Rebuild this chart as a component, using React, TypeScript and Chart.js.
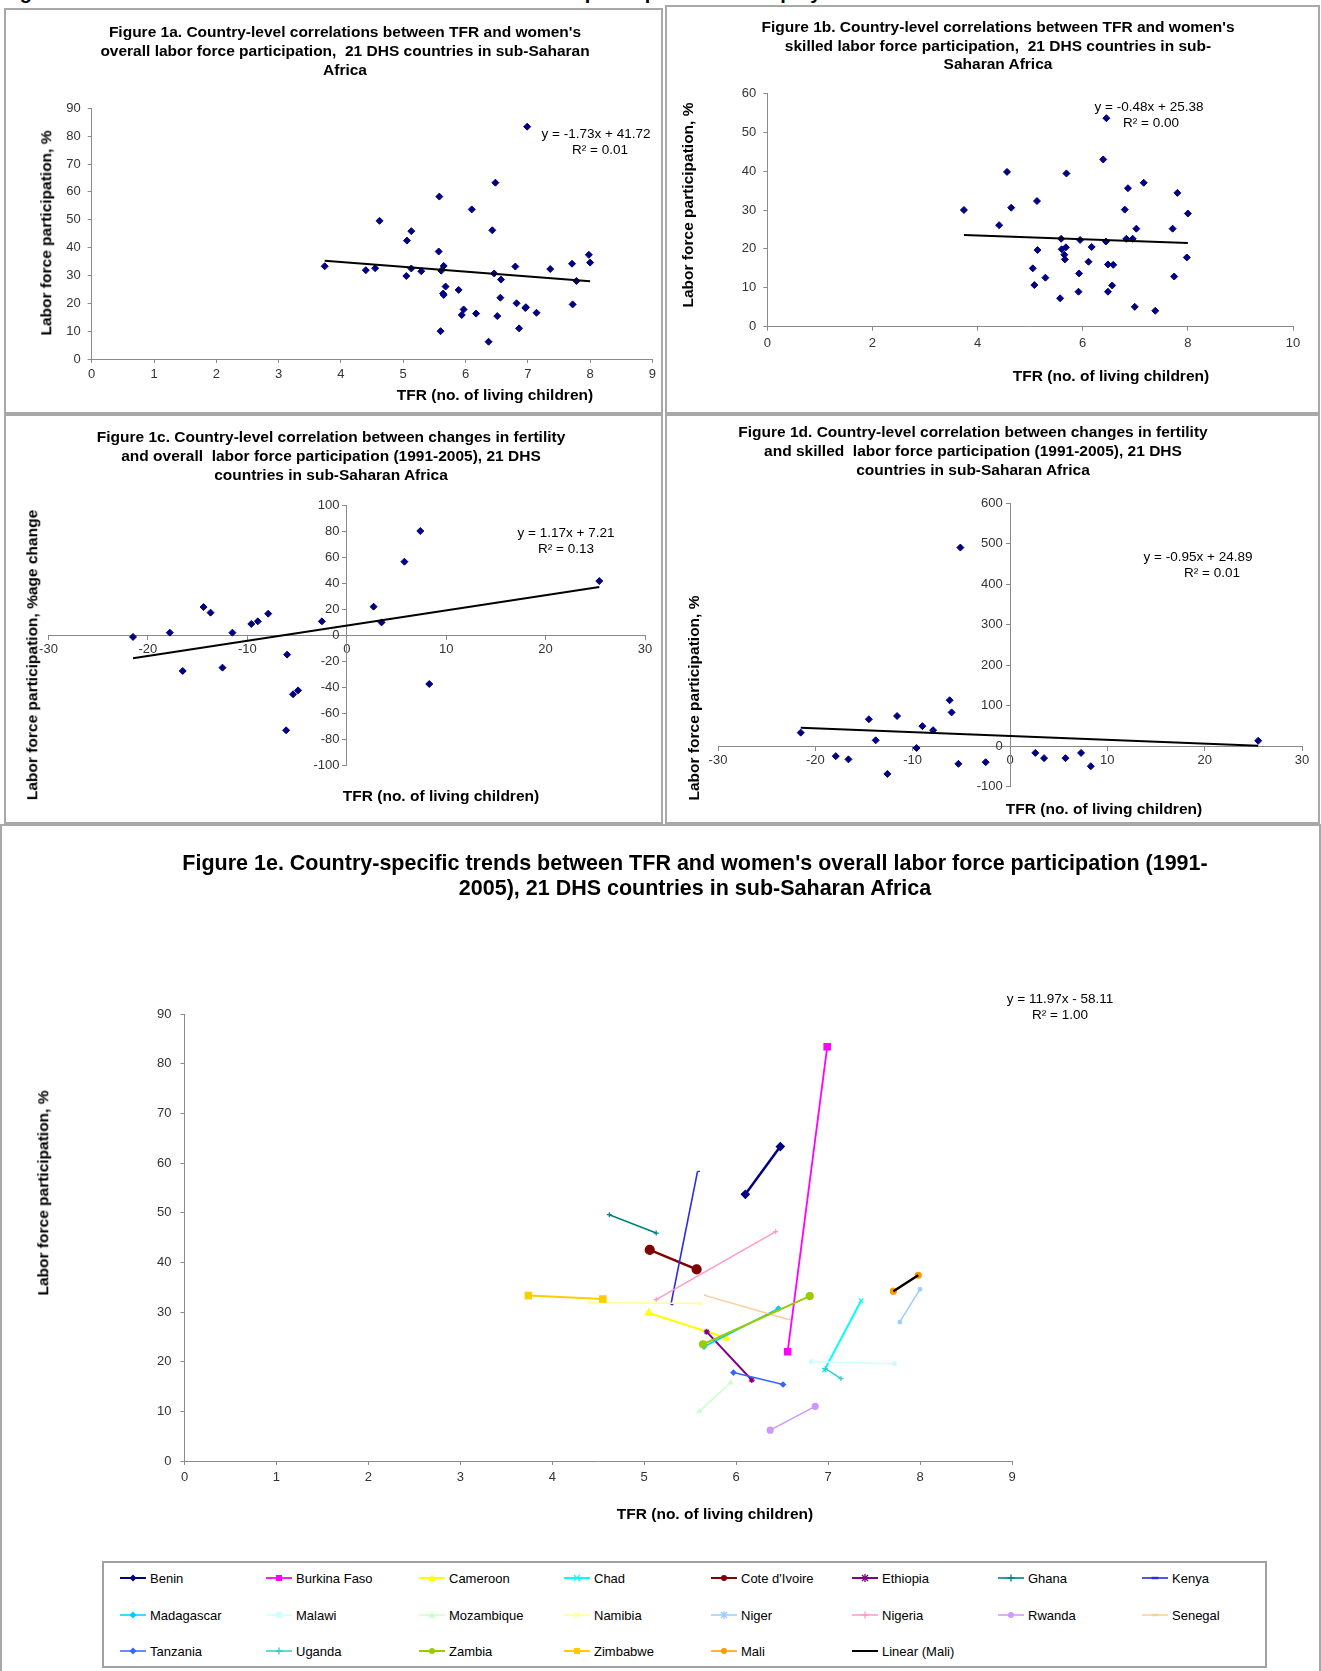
import React, { useEffect, useRef } from "react";
import { Chart, registerables } from "chart.js";
Chart.register(...registerables);

const FONT = "'Liberation Sans', Arial, Helvetica, sans-serif";
const NAVY = "#000080";
const AXIS = "#8a8a8a";
const TICK = "#333333";

// ---------- Figure 1e data (two surveys per country, 1991-2005) ----------
const countries = [
  "Benin", "Burkina Faso", "Cameroon", "Chad", "Cote d'Ivoire", "Ethiopia", "Ghana", "Kenya",
  "Madagascar", "Malawi", "Mozambique", "Namibia", "Niger", "Nigeria", "Rwanda", "Senegal",
  "Tanzania", "Uganda", "Zambia", "Zimbabwe", "Mali",
];
const tfrFirst = [6.10, 6.99, 5.05, 7.36, 5.06, 5.68, 4.62, 5.58, 5.65, 6.82, 5.60, 4.40, 8.00, 5.13, 6.37, 5.65, 5.97, 6.97, 5.64, 3.74, 7.71];
const lfpFirst = [53.7, 83.4, 29.8, 32.3, 42.5, 26.0, 49.6, 58.3, 23.0, 20.0, 10.0, 31.9, 34.6, 32.5, 6.2, 33.4, 17.8, 18.6, 23.5, 33.3, 34.2];
const tfrSecond = [6.48, 6.56, 5.89, 6.96, 5.57, 6.17, 5.13, 5.29, 6.46, 7.72, 5.94, 5.61, 7.78, 6.43, 6.86, 6.57, 6.51, 7.14, 6.80, 4.55, 7.98];
const lfpSecond = [63.3, 22.0, 24.8, 18.3, 38.6, 16.3, 45.9, 31.5, 30.7, 19.6, 15.8, 31.7, 28.0, 46.2, 11.0, 28.5, 15.4, 16.6, 33.2, 32.6, 37.4];
const maliTrend = { slope: 11.97, intercept: -58.11 };

// ---------- Figure 1a trend ----------
const trendA = { slope: -1.73, intercept: 41.72 };

// ---------- Figure 1b data (skilled labor force participation) ----------
const skilledTfr = [6.45, 6.39, 4.56, 5.69, 7.16, 6.86, 7.80, 5.13, 3.74, 4.64, 6.80, 8.00, 4.41, 7.02, 7.71, 5.59, 5.95, 6.44, 6.83, 6.95, 6.17, 5.14, 5.60, 5.68, 5.65, 5.66, 7.98, 6.11, 6.48, 6.58, 5.05, 5.93, 5.29, 7.74, 5.08, 6.56, 5.92, 6.48, 5.57, 6.99, 7.38];
const skilledLfp = [53.6, 43.0, 39.8, 39.4, 37.0, 35.6, 34.4, 32.3, 30.0, 30.6, 30.1, 29.1, 26.1, 25.2, 25.2, 22.6, 22.3, 21.9, 22.6, 22.6, 20.5, 19.7, 19.9, 20.4, 18.5, 17.3, 17.8, 16.7, 16.0, 15.9, 15.0, 13.7, 12.6, 12.9, 10.7, 10.6, 9.0, 9.0, 7.3, 5.1, 4.1];
const trendB = { slope: -0.48, intercept: 25.38 };

// ---------- Figure 1c data (% change, overall) ----------
const tfrChangeC = [-21.5, -17.8, -16.5, -14.4, -13.7, -12.5, -11.5, -9.6, -8.95, -7.9, -6.0, -6.1, -5.4, -4.9, -2.5, 2.7, 3.5, 5.8, 7.4, 8.3, 25.4];
const lfpChangeC = [-1.5, 1.8, -27.7, 21.5, 17.2, -25.1, 1.8, 8.5, 10.5, 16.4, -15.1, -73.3, -45.6, -42.6, 10.5, 21.8, 9.7, 56.4, 80.0, -37.7, 41.5];
const trendC = { slope: 1.17, intercept: 7.21 };

// ---------- Figure 1d data (% change, skilled) ----------
const tfrChangeD = [-21.5, -17.9, -16.6, -14.5, -13.8, -12.6, -11.6, -9.6, -9.0, -7.9, -6.2, -6.0, -5.3, -5.1, -2.5, 2.6, 3.5, 5.7, 7.3, 8.3, 25.5];
const skilledChangeD = [33, -25, -33, 66, 14, -69, 74, -5, 49, 39, 113, 83, -44, 490, -40, -17, -30, -30, -17, -50, 13];
const trendD = { slope: -0.95, intercept: 24.89 };

// ---------- series styles for 1e ----------
const seriesColors = [
  "#000080", "#FF00FF", "#FFFF00", "#00FFFF", "#800000", "#800080", "#008080", "#2B2BE0",
  "#00CCFF", "#CCFFFF", "#CCFFCC", "#FFFF99", "#99CCFF", "#FF99CC", "#CC99FF", "#FFCC99",
  "#3366FF", "#33CCCC", "#99CC00", "#FFCC00", "#FF9900",
];
const seriesMarkers = [
  "rectRot", "rect", "triangle", "crossRot", "circle", "star", "cross", "dash",
  "rectRot", "rect", "triangle", "crossRot", "star", "cross", "circle", "dash",
  "rectRot", "cross", "circle", "rect", "circle",
];
const seriesRadius = [4, 4.5, 4, 3, 4.5, 3, 2.5, 2.5, 2.5, 2.5, 2.5, 2.5, 2.5, 2.5, 3, 2.5, 2.5, 2.5, 3.5, 4.5, 3];
const seriesWidth = [2.5, 1.8, 2, 2, 2.5, 2, 1.6, 1.6, 1.5, 1.5, 1.5, 1.5, 1.5, 1.5, 1.5, 1.5, 1.5, 1.5, 2, 2, 1.5];

const pts = (xs: number[], ys: number[]) => xs.map((x, i) => ({ x, y: ys[i] }));
const trendPts = (xs: number[], t: { slope: number; intercept: number }) => {
  const lo = Math.min(...xs);
  const hi = Math.max(...xs);
  return [
    { x: lo, y: t.slope * lo + t.intercept },
    { x: hi, y: t.slope * hi + t.intercept },
  ];
};

function scale(min: number, max: number, step: number, o: any = {}) {
  const s: any = {
    type: "linear",
    min,
    max,
    ticks: {
      stepSize: step,
      autoSkip: false,
      maxRotation: 0,
      font: { family: FONT, size: o.font ?? 13 },
      color: TICK,
      padding: o.pad ?? 5,
    },
    grid: { display: true, drawOnChartArea: false, drawTicks: true, tickLength: 4, color: AXIS, tickColor: AXIS },
    border: { display: true, color: AXIS, width: 1 },
  };
  if (o.gap) s.ticks.callback = (v: any) => `${v}${o.gap}`;
  if (o.position) s.position = o.position;
  if (o.size != null) {
    s.afterFit = (sc: any) => {
      if (sc.isHorizontal()) sc.height = o.size;
      else sc.width = o.size;
    };
  }
  return s;
}

function baseOptions(padding: any, scales: any) {
  return {
    responsive: false,
    animation: false,
    events: [],
    layout: { padding },
    plugins: { legend: { display: false }, tooltip: { enabled: false }, title: { display: false } },
    scales,
  };
}

function scatterSets(xs: number[], ys: number[], t: { slope: number; intercept: number }) {
  return [
    {
      data: trendPts(xs, t),
      showLine: true,
      borderColor: "#000",
      borderWidth: 2,
      pointRadius: 0,
      order: 0,
    },
    {
      data: pts(xs, ys),
      pointStyle: "rectRot",
      pointRadius: 3.5,
      backgroundColor: NAVY,
      borderColor: NAVY,
      borderWidth: 1,
      showLine: false,
      order: 1,
    },
  ];
}

type Pos = { left: number; top: number; width: number; height: number };

function ChartCanvas({ pos, build }: { pos: Pos; build: () => any }) {
  const ref = useRef<HTMLCanvasElement | null>(null);
  useEffect(() => {
    if (!ref.current) return;
    const chart = new Chart(ref.current, build());
    return () => chart.destroy();
  }, []);
  return (
    <canvas
      ref={ref}
      width={pos.width}
      height={pos.height}
      style={{ position: "absolute", left: pos.left, top: pos.top, width: pos.width, height: pos.height }}
    />
  );
}

function Txt(props: { x: number; y: number; size?: number; bold?: boolean; rotate?: boolean; children: any }) {
  const { x, y, size = 11, bold = false, rotate = false, children } = props;
  return (
    <div
      style={{
        position: "absolute",
        left: x,
        top: y,
        transform: `translate(-50%, -50%)${rotate ? " rotate(-90deg)" : ""}`,
        fontFamily: FONT,
        fontSize: size,
        fontWeight: bold ? 700 : 400,
        whiteSpace: "pre",
        lineHeight: 1,
        color: "#000",
      }}
    >
      {children}
    </div>
  );
}

function Box({ left, top, width, height }: Pos) {
  return (
    <div
      style={{
        position: "absolute",
        left,
        top,
        width,
        height,
        boxSizing: "border-box",
        border: "2px solid #a8a8a8",
      }}
    />
  );
}

function LegendIcon({ color, marker, width }: { color: string; marker: string | null; width: number }) {
  const cx = 13;
  const cy = 6;
  let m: any = null;
  const r = 3.5;
  if (marker === "rectRot") m = <polygon points={`${cx},${cy - r} ${cx + r},${cy} ${cx},${cy + r} ${cx - r},${cy}`} fill={color} />;
  else if (marker === "rect") m = <rect x={cx - 3} y={cy - 3} width={6} height={6} fill={color} />;
  else if (marker === "triangle") m = <polygon points={`${cx},${cy - 3.5} ${cx + 3.5},${cy + 3} ${cx - 3.5},${cy + 3}`} fill={color} />;
  else if (marker === "circle") m = <circle cx={cx} cy={cy} r={3} fill={color} />;
  else if (marker === "crossRot")
    m = <path d={`M${cx - 3},${cy - 3}L${cx + 3},${cy + 3}M${cx + 3},${cy - 3}L${cx - 3},${cy + 3}`} stroke={color} strokeWidth={1.3} />;
  else if (marker === "cross")
    m = <path d={`M${cx},${cy - 3.5}L${cx},${cy + 3.5}M${cx - 3.5},${cy}L${cx + 3.5},${cy}`} stroke={color} strokeWidth={1.3} />;
  else if (marker === "star")
    m = (
      <path
        d={`M${cx - 3},${cy - 3}L${cx + 3},${cy + 3}M${cx + 3},${cy - 3}L${cx - 3},${cy + 3}M${cx},${cy - 4}L${cx},${cy + 4}`}
        stroke={color}
        strokeWidth={1.3}
      />
    );
  else if (marker === "dash") m = <rect x={cx - 3.5} y={cy - 1.2} width={7} height={2.4} fill={color} />;
  return (
    <svg width={26} height={12} style={{ display: "block" }}>
      <line x1={0} y1={cy} x2={26} y2={cy} stroke={color} strokeWidth={Math.min(width, 2)} />
      {m}
    </svg>
  );
}

const legendColsX = [120, 266, 419, 564, 711, 852, 998, 1142];
const legendRowsY = [1578, 1615, 1651];

export default function App() {
  const fig1aX = tfrFirst.concat(tfrSecond);
  const fig1aY = lfpFirst.concat(lfpSecond);

  const build1a = () => ({
    type: "scatter",
    data: { datasets: scatterSets(fig1aX, fig1aY, trendA) },
    options: baseOptions(
      { left: 55.7, right: 8.6, top: 98.3, bottom: 29 },
      { x: scale(0, 9, 1, { size: 24, pad: 4 }), y: scale(0, 90, 10, { size: 30, pad: 7 }) }
    ),
  });

  const build1b = () => ({
    type: "scatter",
    data: { datasets: scatterSets(skilledTfr, skilledLfp, trendB) },
    options: baseOptions(
      { left: 69.3, right: 25, top: 84.3, bottom: 61.3 },
      { x: scale(0, 10, 2, { size: 24, pad: 5 }), y: scale(0, 60, 10, { size: 30, pad: 7 }) }
    ),
  });

  const build1c = () => ({
    type: "scatter",
    data: { datasets: scatterSets(tfrChangeC, lfpChangeC, trendC) },
    options: baseOptions(
      { left: 42.5, right: 16, top: 89, bottom: 57 },
      {
        x: scale(-30, 30, 10, { position: { y: 0 }, pad: 3 }),
        y: scale(-100, 100, 20, { position: { x: 0 }, pad: 6, gap: "  " }),
      }
    ),
  });

  const build1d = () => ({
    type: "scatter",
    data: { datasets: scatterSets(tfrChangeD, skilledChangeD, trendD) },
    options: baseOptions(
      { left: 50, right: 16, top: 87, bottom: 35.5 },
      {
        x: scale(-30, 30, 10, { position: { y: 0 }, pad: 3 }),
        y: scale(-100, 600, 100, { position: { x: 0 }, pad: 6, gap: "  " }),
      }
    ),
  });

  const build1e = () => {
    const n = countries.length;
    const sets: any[] = countries.map((c, i) => ({
      label: c,
      data: pts([tfrFirst[i], tfrSecond[i]], [lfpFirst[i], lfpSecond[i]]),
      showLine: true,
      borderColor: seriesColors[i],
      backgroundColor: seriesColors[i],
      borderWidth: seriesWidth[i],
      pointStyle: seriesMarkers[i],
      pointRadius: seriesRadius[i],
      pointBorderWidth: 1.2,
      order: n + 1 - i,
    }));
    const maliIdx = countries.indexOf("Mali");
    sets.push({
      label: "Linear (Mali)",
      data: trendPts([tfrFirst[maliIdx], tfrSecond[maliIdx]], maliTrend),
      showLine: true,
      borderColor: "#000",
      borderWidth: 2.5,
      pointRadius: 0,
      order: 0,
    });
    return {
      type: "scatter",
      data: { datasets: sets },
      options: baseOptions(
        { left: 152.5, right: 307, top: 187, bottom: 60 },
        { x: scale(0, 9, 1, { size: 24, pad: 5 }), y: scale(0, 90, 10, { size: 30, pad: 9 }) }
      ),
    };
  };

  const legendItems = countries
    .map((c, i) => ({ label: c, color: seriesColors[i], marker: seriesMarkers[i] as string | null, width: seriesWidth[i] }))
    .concat([{ label: "Linear (Mali)", color: "#000", marker: null, width: 2.5 }]);

  const TT = 15.5; // chart title size
  const AT = 15.5; // axis title size
  const EQ = 13.5; // equation size

  return (
    <div style={{ position: "absolute", left: 0, top: 0, width: 1321, height: 1671, overflow: "hidden", background: "#fff" }}>
      {/* cut-off page heading */}
      <div style={{ position: "absolute", left: 0, top: 0, width: 1321, height: 7, overflow: "hidden" }}>
        <div style={{ position: "absolute", left: 2, top: -19, fontFamily: FONT, fontWeight: 700, fontSize: 20, lineHeight: "23px", whiteSpace: "pre" }}>
          Figure 1. Correlations between TFR and women's labor force participation and employment
        </div>
      </div>

      <Box left={4} top={8} width={659} height={406} />
      <Box left={665} top={5} width={655} height={409} />
      <Box left={4} top={414} width={659} height={410} />
      <Box left={665} top={414} width={655} height={410} />
      <Box left={0} top={824} width={1321} height={860} />

      <ChartCanvas pos={{ left: 6, top: 10, width: 655, height: 402 }} build={build1a} />
      <ChartCanvas pos={{ left: 668, top: 9, width: 650, height: 403 }} build={build1b} />
      <ChartCanvas pos={{ left: 6, top: 416, width: 655, height: 406 }} build={build1c} />
      <ChartCanvas pos={{ left: 668, top: 416, width: 650, height: 406 }} build={build1d} />
      <ChartCanvas pos={{ left: 2, top: 827, width: 1317, height: 718 }} build={build1e} />

      {/* Figure 1a texts */}
      <Txt x={345} y={32} size={TT} bold>Figure 1a. Country-level correlations between TFR and women's</Txt>
      <Txt x={345} y={51} size={TT} bold>overall labor force participation,  21 DHS countries in sub-Saharan</Txt>
      <Txt x={345} y={70} size={TT} bold>Africa</Txt>
      <Txt x={596} y={134} size={EQ}>y = -1.73x + 41.72</Txt>
      <Txt x={600} y={150} size={EQ}>R² = 0.01</Txt>
      <Txt x={46} y={233} size={AT} bold rotate>Labor force participation, %</Txt>
      <Txt x={495} y={395} size={AT} bold>TFR (no. of living children)</Txt>

      {/* Figure 1b texts */}
      <Txt x={998} y={27} size={TT} bold>Figure 1b. Country-level correlations between TFR and women's</Txt>
      <Txt x={998} y={46} size={TT} bold>skilled labor force participation,  21 DHS countries in sub-</Txt>
      <Txt x={998} y={64} size={TT} bold>Saharan Africa</Txt>
      <Txt x={1149} y={107} size={EQ}>y = -0.48x + 25.38</Txt>
      <Txt x={1151} y={123} size={EQ}>R² = 0.00</Txt>
      <Txt x={688} y={205} size={AT} bold rotate>Labor force participation, %</Txt>
      <Txt x={1111} y={376} size={AT} bold>TFR (no. of living children)</Txt>

      {/* Figure 1c texts */}
      <Txt x={331} y={437} size={TT} bold>Figure 1c. Country-level correlation between changes in fertility</Txt>
      <Txt x={331} y={456} size={TT} bold>and overall  labor force participation (1991-2005), 21 DHS</Txt>
      <Txt x={331} y={475} size={TT} bold>countries in sub-Saharan Africa</Txt>
      <Txt x={566} y={533} size={EQ}>y = 1.17x + 7.21</Txt>
      <Txt x={566} y={549} size={EQ}>R² = 0.13</Txt>
      <Txt x={32} y={655} size={AT} bold rotate>Labor force participation, %age change</Txt>
      <Txt x={441} y={796} size={AT} bold>TFR (no. of living children)</Txt>

      {/* Figure 1d texts */}
      <Txt x={973} y={432} size={TT} bold>Figure 1d. Country-level correlation between changes in fertility</Txt>
      <Txt x={973} y={451} size={TT} bold>and skilled  labor force participation (1991-2005), 21 DHS</Txt>
      <Txt x={973} y={470} size={TT} bold>countries in sub-Saharan Africa</Txt>
      <Txt x={1198} y={557} size={EQ}>y = -0.95x + 24.89</Txt>
      <Txt x={1212} y={573} size={EQ}>R² = 0.01</Txt>
      <Txt x={694} y={698} size={AT} bold rotate>Labor force participation, %</Txt>
      <Txt x={1104} y={809} size={AT} bold>TFR (no. of living children)</Txt>

      {/* Figure 1e texts */}
      <Txt x={695} y={864} size={21.5} bold>Figure 1e. Country-specific trends between TFR and women's overall labor force participation (1991-</Txt>
      <Txt x={695} y={889} size={21.5} bold>2005), 21 DHS countries in sub-Saharan Africa</Txt>
      <Txt x={1060} y={999} size={EQ}>y = 11.97x - 58.11</Txt>
      <Txt x={1060} y={1015} size={EQ}>R² = 1.00</Txt>
      <Txt x={43} y={1193} size={AT} bold rotate>Labor force participation, %</Txt>
      <Txt x={715} y={1514} size={AT} bold>TFR (no. of living children)</Txt>

      {/* Legend */}
      <div
        style={{
          position: "absolute",
          left: 102,
          top: 1561,
          width: 1165,
          height: 107,
          boxSizing: "border-box",
          border: "2px solid #a0a0a0",
          background: "#fff",
        }}
      />
      {legendItems.map((it, i) => {
        const col = i % 8;
        const row = Math.floor(i / 8);
        return (
          <div
            key={it.label}
            style={{
              position: "absolute",
              left: legendColsX[col],
              top: legendRowsY[row] - 8,
              height: 16,
              display: "flex",
              alignItems: "center",
              fontFamily: FONT,
              fontSize: 13,
              whiteSpace: "pre",
            }}
          >
            <LegendIcon color={it.color} marker={it.marker} width={it.width} />
            <span style={{ marginLeft: 4 }}>{it.label}</span>
          </div>
        );
      })}
    </div>
  );
}
